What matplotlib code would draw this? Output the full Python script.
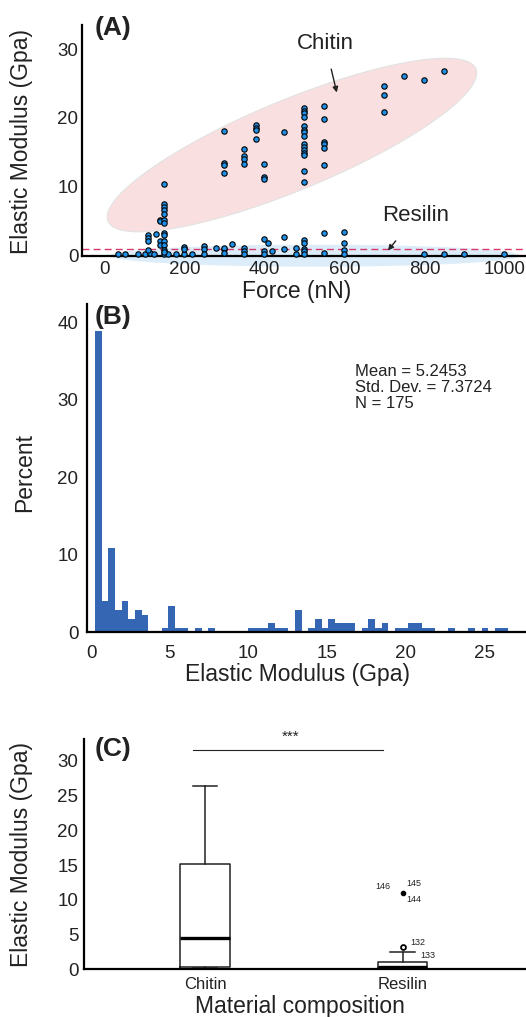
import matplotlib
matplotlib.use('Agg')
import matplotlib.pyplot as plt
import numpy as np
from matplotlib.patches import Ellipse, Polygon

plt.rcParams['font.family'] = ['Liberation Sans', 'DejaVu Sans']
plt.rcParams['text.color'] = '#222222'
plt.rcParams['axes.labelcolor'] = '#222222'
plt.rcParams['xtick.color'] = '#222222'
plt.rcParams['ytick.color'] = '#222222'

# ---- panel A : elastic modulus vs force ----
chitin_force = [110, 110, 110, 130, 140, 140, 140, 140,
                150, 150, 150, 150, 150, 150, 150, 150, 150, 150, 150,
                300, 300, 300, 300, 350, 350, 350, 350, 380, 380, 380, 380,
                400, 400, 400, 450,
                500, 500, 500, 500, 500, 500, 500, 500, 500, 500, 500, 500, 500, 500, 500,
                550, 550, 550, 550, 550, 550, 700, 700, 700, 750, 800, 850]
chitin_mod = [3.0, 2.5, 2.1, 3.15, 5.2, 5.0, 2.1, 1.55,
              10.4, 7.5, 7.1, 6.6, 6.0, 5.2, 4.7, 3.3, 3.0, 2.1, 1.55,
              18.05, 13.4, 13.1, 12.0, 15.5, 14.5, 14.1, 13.3, 19.0, 18.6, 18.2, 16.9,
              13.3, 11.4, 11.2, 17.9,
              21.4, 21.0, 20.7, 20.1, 18.8, 18.3, 17.9, 17.4, 16.2, 15.8, 15.4, 14.9, 14.6, 12.3, 10.65,
              21.8, 19.8, 16.5, 16.2, 15.7, 13.1, 24.6, 23.3, 20.8, 26.1, 25.5, 26.8]

resilin_force = [33, 52, 83, 102, 114, 125, 150, 160, 180, 200, 220,
                 110, 150, 150, 200, 200, 250, 250, 250, 280, 300, 300, 300, 320,
                 350, 350, 350, 400, 410, 400, 400, 420, 450, 450, 480, 480,
                 500, 500, 500, 500, 500, 550, 550, 600, 600, 600, 600,
                 800, 850, 900, 1000]
resilin_mod = [0.2, 0.2, 0.2, 0.2, 0.4, 0.2, 0.2, 0.2, 0.2, 0.2, 0.2,
               0.8, 0.8, 0.5, 1.3, 0.9, 1.4, 0.9, 0.2, 1.07, 0.9, 1.07, 0.35, 1.7,
               1.07, 0.7, 0.25, 2.4, 1.9, 0.7, 0.25, 0.7, 2.7, 1.0, 1.07, 0.25,
               2.3, 1.9, 0.97, 0.68, 0.25, 3.3, 0.35, 3.4, 1.9, 0.83, 0.2,
               0.3, 0.2, 0.2, 0.2]

threshold = 1.0

# ---- panel B : histogram (counts per bin, N = 175) ----
bin_start = 0.254
bin_width = 0.4237
bin_counts = [68, 7, 19, 5, 7, 3, 5, 4, 0, 0, 1, 6, 1, 1, 0, 1, 0, 1, 0, 0,
              0, 0, 0, 1, 1, 1, 2, 1, 1, 0, 5, 0, 1, 3, 1, 3, 2, 2, 2, 0,
              1, 3, 1, 2, 0, 1, 1, 2, 2, 1, 1, 0, 0, 1, 0, 0, 1, 0, 1, 0,
              1, 1]
n_total = 175
stats_text = "Mean = 5.2453\nStd. Dev. = 7.3724\nN = 175"

# ---- panel C : boxplot ----
groups = ['Chitin', 'Resilin']
box_q1 = [0.29, 0.2]
box_med = [4.46, 0.35]
box_q3 = [15.2, 1.0]
whis_lo = [0.25, 0.15]
whis_hi = [26.4, 2.45]
outlier_vals = [3.2]        # case 132
extreme_vals = [11.04]      # cases 144-146

fig = plt.figure(figsize=(5.26, 10.17), dpi=100)

# ================= A =================
ax1 = fig.add_axes([0.1565, 0.7486, 0.8435, 0.2268])
# chitin ellipse (center, semi-major vector, semi-minor vector, in data units)
t = np.linspace(0, 2 * np.pi, 200)
ctr = np.array([469, 16.07])
va = np.array([459.7, 11.06])
vb = np.array([43.0, -6.04])
pts = ctr + np.outer(np.cos(t), va) + np.outer(np.sin(t), vb)
ax1.add_patch(Polygon(pts, closed=True, facecolor='#f9dfe0', edgecolor='#e2e2e2',
                      lw=0.8, zorder=1))
ax1.add_patch(Ellipse((527, 0), width=1025, height=3.2, facecolor='#dcedf9',
                      edgecolor='none', zorder=1, clip_on=False))
ax1.axhline(threshold, color='#d8396b', lw=1.0, ls=(0, (5, 3)), zorder=2)
ax1.scatter(chitin_force, chitin_mod, s=15, c='#1e90e8', edgecolors='black',
            linewidths=0.8, zorder=4, clip_on=False)
ax1.scatter(resilin_force, resilin_mod, s=15, c='#1e90e8', edgecolors='black',
            linewidths=0.8, zorder=4, clip_on=False)
ax1.annotate('Chitin', xy=(581, 23.7), xytext=(552, 30.8), fontsize=16,
             ha='center', va='center',
             arrowprops=dict(arrowstyle='-|>', color='#222222', lw=1.0,
                             shrinkA=9, shrinkB=0, mutation_scale=8))
ax1.annotate('Resilin', xy=(709, 0.75), xytext=(779, 5.8), fontsize=16,
             ha='center', va='center',
             arrowprops=dict(arrowstyle='-|>', color='#222222', lw=1.0,
                             shrinkA=11, shrinkB=0, mutation_scale=8))
ax1.set_xlim(-55, 1054)
ax1.set_ylim(0, 33.5)
ax1.set_xticks([0, 200, 400, 600, 800, 1000])
ax1.set_yticks([0, 10, 20, 30])
ax1.tick_params(axis='x', length=0, pad=3.6, labelsize=13.5)
ax1.tick_params(axis='y', length=0, pad=2.9, labelsize=13.5)
ax1.set_xlabel('Force (nN)', fontsize=16.5)
ax1.set_ylabel('Elastic Modulus (Gpa)', fontsize=16.5)
ax1.xaxis.set_label_coords(0.483, -0.105)
ax1.yaxis.set_label_coords(-0.111, 0.497)

# ================= B =================
ax2 = fig.add_axes([0.1648, 0.3783, 0.8352, 0.3228])
lefts = bin_start + bin_width * np.arange(len(bin_counts))
percent = np.array(bin_counts) / n_total * 100
ax2.bar(lefts, percent, width=bin_width, align='edge', color='#3566b4',
        edgecolor='none')
ax2.text(0.611, 0.746, stats_text, transform=ax2.transAxes, fontsize=12,
         ha='left', va='center', linespacing=1.08)
ax2.set_xlim(-0.28, 27.65)
ax2.set_ylim(0, 42.4)
ax2.set_xticks([0, 5, 10, 15, 20, 25])
ax2.set_yticks([0, 10, 20, 30, 40])
ax2.tick_params(axis='x', length=0, pad=9.5, labelsize=13.5)
ax2.tick_params(axis='y', length=0, pad=6, labelsize=13.5)
ax2.set_xlabel('Elastic Modulus (Gpa)', fontsize=16.5)
ax2.set_ylabel('Percent', fontsize=16.5)
ax2.xaxis.set_label_coords(0.481, -0.095)
ax2.yaxis.set_label_coords(-0.116, 0.488)

# ================= C =================
ax3 = fig.add_axes([0.1597, 0.0469, 0.8403, 0.2262])
bstats = []
for i, g in enumerate(groups):
    bstats.append(dict(label=g, q1=box_q1[i], med=box_med[i], q3=box_q3[i],
                       whislo=whis_lo[i], whishi=whis_hi[i],
                       fliers=outlier_vals if g == 'Resilin' else []))
ax3.bxp(bstats, positions=[1, 2], widths=0.25,
        boxprops=dict(color='#222222', lw=1.1),
        whiskerprops=dict(color='#222222', lw=1.1),
        capprops=dict(color='#222222', lw=1.1),
        medianprops=dict(color='black', lw=2.4),
        flierprops=dict(marker='o', markersize=3.5, markerfacecolor='white',
                        markeredgecolor='black', markeredgewidth=1.3))
ax3.scatter([2] * len(extreme_vals), extreme_vals, s=9, c='black', zorder=4)
ax3.text(1.94, 11.9, '146', fontsize=6.5, ha='right', va='center')
ax3.text(2.02, 12.4, '145', fontsize=6.5, ha='left', va='center')
ax3.text(2.02, 10.1, '144', fontsize=6.5, ha='left', va='center')
ax3.text(2.04, 3.8, '132', fontsize=6.5, ha='left', va='center')
ax3.text(2.09, 1.96, '133', fontsize=6.5, ha='left', va='center')
ax3.plot([0.938, 1.902], [31.5, 31.5], color='#222222', lw=0.8, clip_on=False)
ax3.text(1.435, 33.5, '***', fontsize=11, ha='center', va='center')
ax3.set_xlim(0.388, 2.624)
ax3.set_ylim(0, 33.1)
ax3.set_yticks([0, 5, 10, 15, 20, 25, 30])
ax3.tick_params(axis='x', length=0, pad=5.3, labelsize=12)
ax3.tick_params(axis='y', length=0, pad=4.1, labelsize=13.5)
ax3.set_xlabel('Material composition', fontsize=16.5)
ax3.set_ylabel('Elastic Modulus (Gpa)', fontsize=16.5)
ax3.xaxis.set_label_coords(0.489, -0.11)
ax3.yaxis.set_label_coords(-0.115, 0.501)

for ax in (ax1, ax2, ax3):
    ax.spines['top'].set_visible(False)
    ax.spines['right'].set_visible(False)
    ax.spines['left'].set_linewidth(1.6)
    ax.spines['bottom'].set_linewidth(1.6)
    ax.spines['bottom'].set_zorder(3)

fig.text(0.2148, 0.9725, '(A)', fontsize=19, fontweight='bold', ha='center', va='center')
fig.text(0.2148, 0.6883, '(B)', fontsize=19, fontweight='bold', ha='center', va='center')
fig.text(0.2148, 0.2635, '(C)', fontsize=19, fontweight='bold', ha='center', va='center')

fig.savefig('out.png', dpi=100)
